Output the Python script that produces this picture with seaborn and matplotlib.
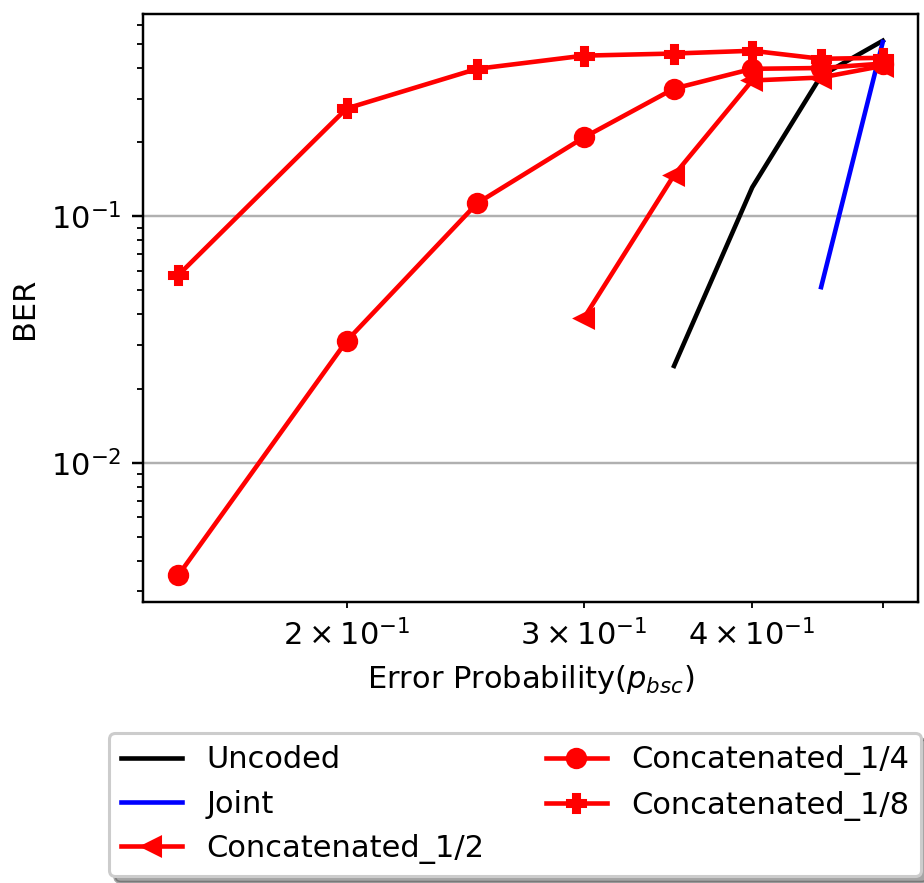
import numpy as np
import pandas as pd
import matplotlib
matplotlib.use("Agg")
import matplotlib.pyplot as plt
import seaborn as sns

p_bsc = [0.15, 0.2, 0.25, 0.3, 0.35, 0.4, 0.45, 0.5]

uncoded_x = [0.35, 0.4, 0.45, 0.5]
uncoded_y = [0.0247, 0.131, 0.372, 0.516]

joint_x = [0.45, 0.5]
joint_y = [0.0516, 0.51]

conc12_x = [0.3, 0.35, 0.4, 0.45, 0.5]
conc12_y = [0.0386, 0.147, 0.356, 0.366, 0.408]

conc14_x = p_bsc
conc14_y = [0.00349, 0.0312, 0.113, 0.209, 0.330, 0.397, 0.400, 0.417]

conc18_x = p_bsc
conc18_y = [0.0577, 0.274, 0.397, 0.449, 0.458, 0.470, 0.436, 0.440]

DPI = 220
fig = plt.figure(figsize=(924 / DPI, 883 / DPI), dpi=DPI)
ax = fig.add_axes([0.1548, 0.3182, 0.8387, 0.6659])

series = [
    ("Uncoded", uncoded_x, uncoded_y, "black", None),
    ("Joint", joint_x, joint_y, "blue", None),
    ("Concatenated_1/2", conc12_x, conc12_y, "red", "<"),
    ("Concatenated_1/4", conc14_x, conc14_y, "red", "o"),
    ("Concatenated_1/8", conc18_x, conc18_y, "red", "P"),
]

for name, xs, ys, col, mk in series:
    kws = dict(color=col, linewidth=1.5, label=name)
    if mk is not None:
        kws.update(marker=mk, markersize=6, markeredgecolor=col,
                   markerfacecolor=col, markeredgewidth=1.0)
    sns.lineplot(x=xs, y=ys, ax=ax, sort=False, estimator=None, **kws)

ax.set_xscale("log")
ax.set_yscale("log")
ax.grid(False)
ax.grid(axis="y", which="major", color="#b0b0b0", linewidth=0.8)
ax.set_xlabel("Error Probability($p_{bsc}$)")
ax.set_ylabel("BER")

ax.legend(loc="upper center", bbox_to_anchor=(0.48, -0.197), ncol=2,
          shadow=True, fancybox=True)

fig.savefig("out.png", dpi=DPI)
